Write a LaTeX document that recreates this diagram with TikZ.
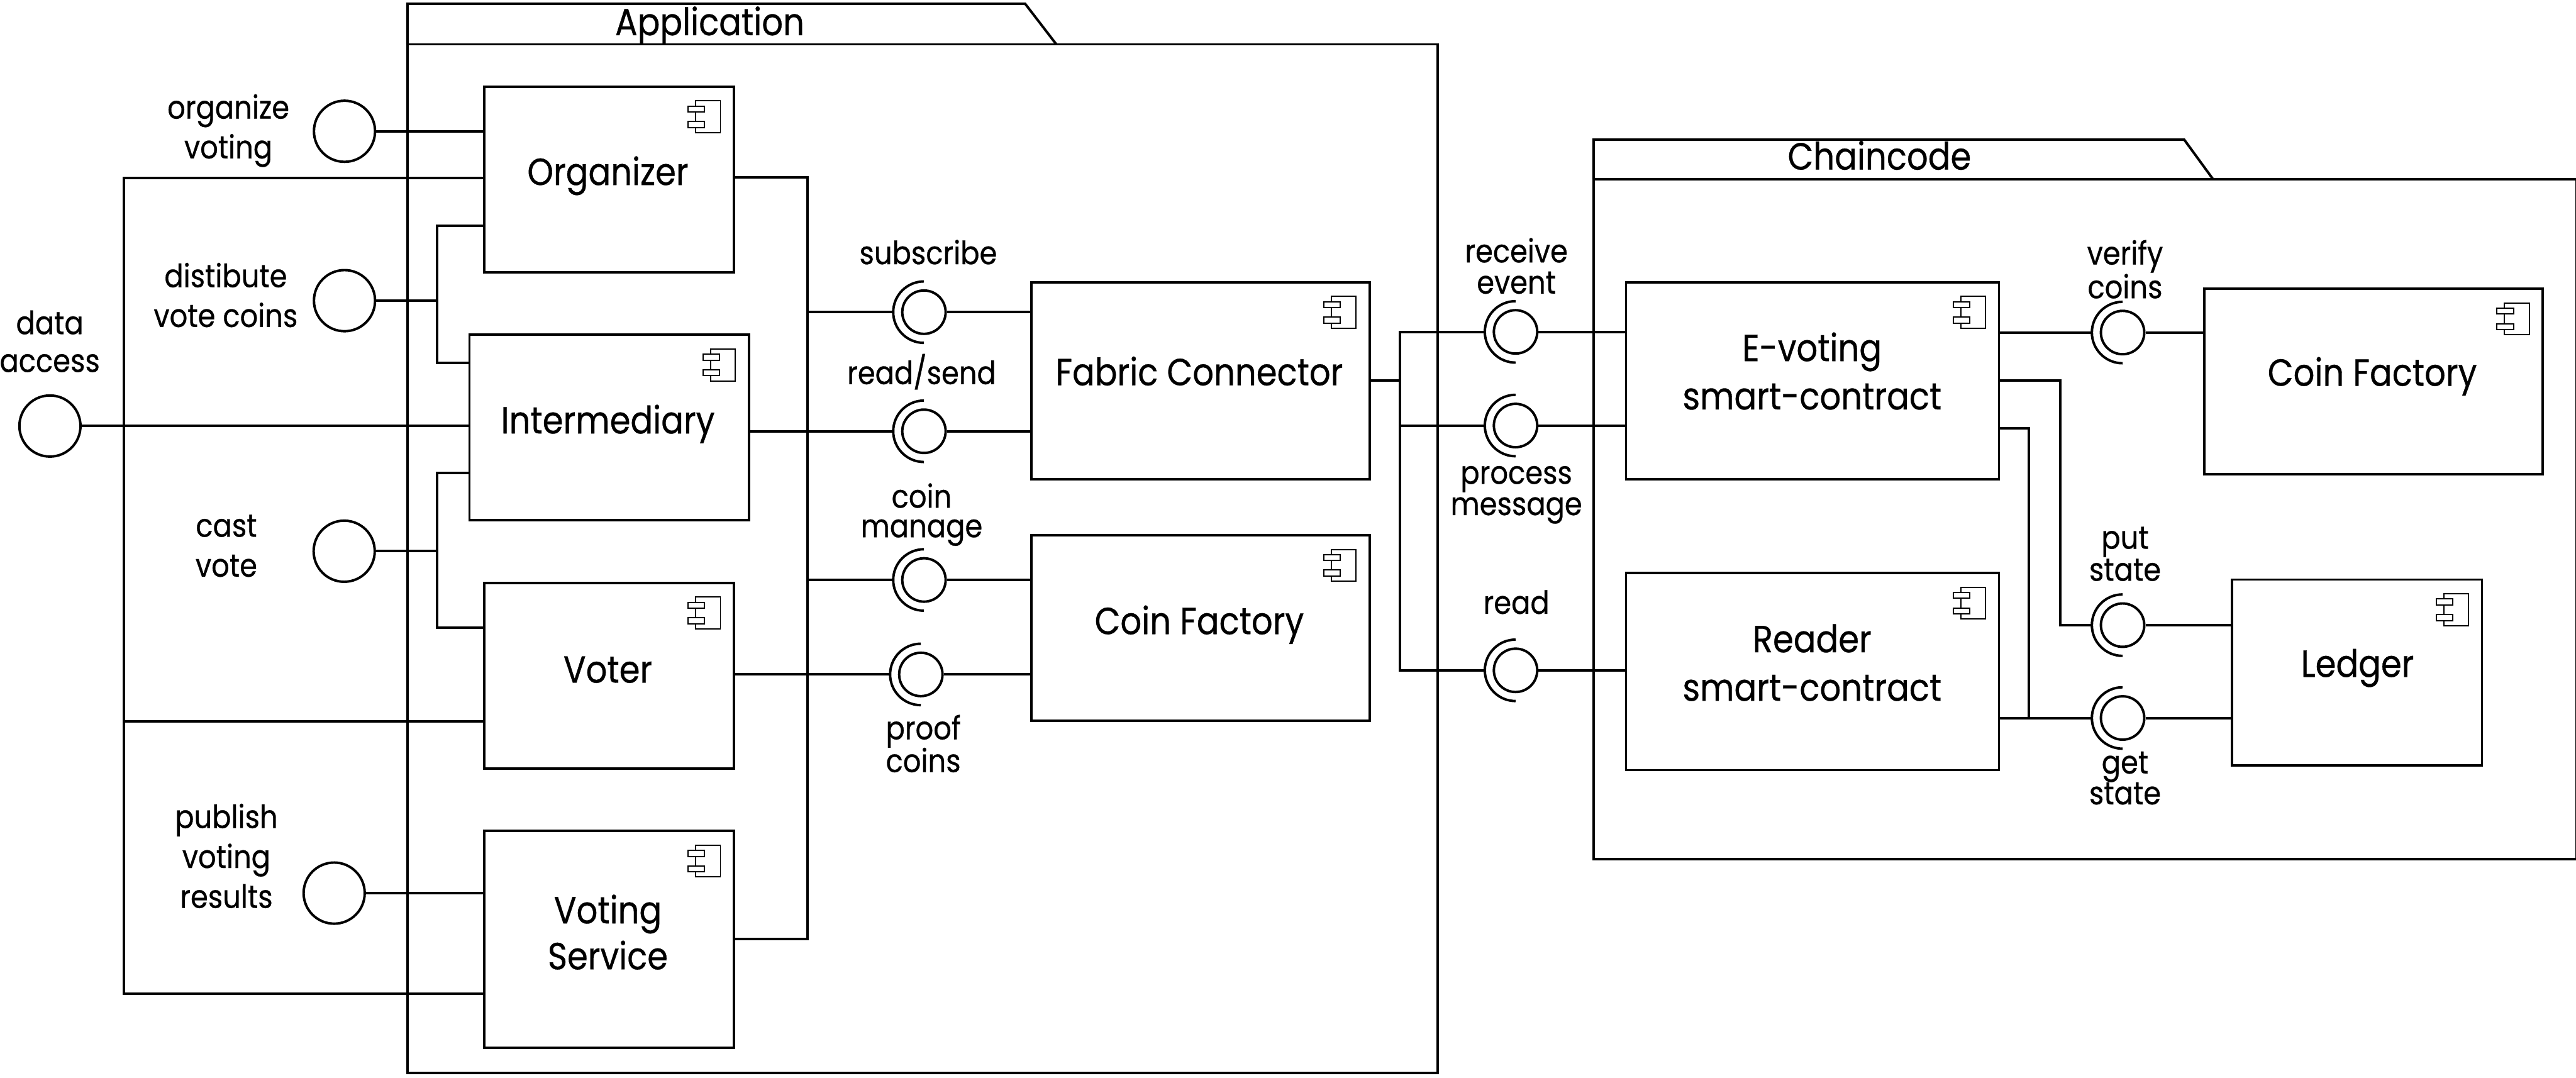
\documentclass[tikz,border=0pt]{standalone}
\usepackage{fontspec}
\setmainfont{Poppins}[FakeStretch=0.88,FakeBold=0.5]
\newcommand\cmpfont{\fontsize{23}{28}\selectfont}
\newcommand\lblfont{\fontsize{19.5}{24}\selectfont}
\newcommand\mylines[3]{{\fontsize{#1}{#2}\selectfont\begin{tabular}[t]{@{}c@{}}#3\end{tabular}}}
\newcommand\compicon[1]{%
  \draw[thin line] ([shift={(-24,9.4)}]#1.north east) rectangle ([shift={(-9,28.8)}]#1.north east);
  \draw[thin line,fill=white] ([shift={(-28.6,12.6)}]#1.north east) rectangle ([shift={(-18.6,16.2)}]#1.north east);
  \draw[thin line,fill=white] ([shift={(-28.6,22)}]#1.north east) rectangle ([shift={(-18.6,25.7)}]#1.north east);}
\newcommand\sock[1]{\draw ([yshift=18.7pt]#1.center) arc[start angle=270,end angle=90,radius=18.7];}
\begin{document}
\begin{tikzpicture}[x=1pt,y=-1pt,line width=1.5pt,
  comp/.style={draw,rectangle,inner sep=0pt,anchor=north west},
  thin line/.style={line width=0.75pt},
  lolli/.style={draw,circle,inner sep=0pt,minimum size=37.2pt},
  ball/.style={draw,circle,inner sep=0pt,minimum size=26.4pt},
  ctext/.style={anchor=base,font=\cmpfont,inner sep=0pt},
  ltext/.style={anchor=base,font=\lblfont,inner sep=0pt}]
\fill[white] (0,0) rectangle (1568,656);
\useasboundingbox (0,0) rectangle (1568,656);

% packages
\draw[line join=miter] (248,27) -- (248,2.3) -- (624,2.3) -- (643,27);
\draw (248,27) rectangle (875,653);
\draw[line join=miter] (970,109) -- (970,85) -- (1329.5,85) -- (1347,109);
\draw (970,109) rectangle (1568.2,522.8);
\node[ctext] (tapp) at (432,21.4) {Application};
\node[ctext] (tch) at (1144,103.2) {Chaincode};

% components
\node[comp,minimum width=152pt,minimum height=113pt] (org) at (294,52) {};
\node[comp,minimum width=170pt,minimum height=113pt] (int) at (285,203) {};
\node[comp,minimum width=152pt,minimum height=113pt] (vot) at (294,354) {};
\node[comp,minimum width=152pt,minimum height=132pt] (vs) at (294,505) {};
\node[comp,minimum width=206pt,minimum height=120pt] (fab) at (627,171) {};
\node[comp,minimum width=206pt,minimum height=113pt] (cf1) at (627,325) {};
\node[comp,minimum width=227pt,minimum height=120pt] (ev) at (989,171) {};
\node[comp,minimum width=227pt,minimum height=120pt] (rd) at (989,348) {};
\node[comp,minimum width=206pt,minimum height=113pt] (cf2) at (1341,175) {};
\node[comp,minimum width=152pt,minimum height=113pt] (led) at (1358,352) {};
\foreach \c in {org,int,vot,vs,fab,cf1,ev,rd,cf2,led}{\compicon{\c}}

\node[ctext] (torg) at (370,112.6) {Organizer};
\node[ctext] (tint) at (370,263.8) {Intermediary};
\node[ctext] (tvot) at (370,415.5) {Voter};
\node[ctext] (tvs) at (370,562) {\mylines{23}{28}{Voting\\Service}};
\node[ctext] (tfab) at (730,234.5) {Fabric Connector};
\node[ctext] (tcf1) at (730,386) {Coin Factory};
\node[ctext] (tev) at (1103,219.8) {\mylines{23}{29.4}{E-voting\hspace{24pt}\\smart-contract}};
\node[ctext] (trd) at (1103,397) {\mylines{23}{29.5}{Reader\hspace{22pt}\\smart-contract}};
\node[ctext] (tcf2) at (1444,234.8) {Coin Factory};
\node[ctext] (tled) at (1435,412) {Ledger};

% provided interfaces (left)
\node[lolli] (ov) at (209.7,79.9) {};
\node[lolli] (dv) at (209.7,183) {};
\node[lolli] (da) at (30.4,259.3) {};
\node[lolli] (cv) at (209.5,335.5) {};
\node[lolli] (pr) at (203.4,543.6) {};
\node[ltext] (lov) at (139,72.2) {\mylines{19.5}{24.2}{organize\\voting}};
\node[ltext] (ldv) at (137.4,174.8) {\mylines{19.5}{24.2}{distibute\\vote coins}};
\node[ltext] (lda) at (30.3,203.4) {\mylines{19.5}{23}{data\\access}};
\node[ltext] (lcv) at (137.8,326.7) {\mylines{19.5}{24.3}{cast\\vote}};
\node[ltext] (lpr) at (137.8,504) {\mylines{19.5}{24.3}{publish\\voting\\results}};

% balls
\node[ball] (bsub) at (562.4,190) {};
\node[ball] (brs) at (562.4,262.5) {};
\node[ball] (bcm) at (562.4,353) {};
\node[ball] (bpc) at (560.5,410.5) {};
\node[ball] (brec) at (922.5,202) {};
\node[ball] (bproc) at (922.5,259) {};
\node[ball] (bread) at (922.5,408) {};
\node[ball] (bver) at (1292,202.4) {};
\node[ball] (bput) at (1292,380.5) {};
\node[ball] (bget) at (1292,437) {};
\foreach \b in {bsub,brs,bcm,bpc,brec,bproc,bread,bver,bput,bget}{\sock{\b}}

\node[ltext] (lsub) at (565,160.8) {subscribe};
\node[ltext] (lrs) at (561,233.8) {read/send};
\node[ltext] (lcm) at (561,309) {\mylines{19.5}{18}{coin\\manage}};
\node[ltext] (lpc) at (562,450) {\mylines{19.5}{17}{proof\\coins}};
\node[ltext] (lrec) at (923,159.7) {\mylines{19.5}{18.7}{receive\\event}};
\node[ltext] (lproc) at (923,294.5) {\mylines{19.5}{19}{process\\message}};
\node[ltext] (lread) at (923,373.6) {read};
\node[ltext] (lver) at (1293.5,161) {\mylines{19.5}{19}{verify\\coins}};
\node[ltext] (lput) at (1293.5,334) {\mylines{19.5}{19.5}{put\\state}};
\node[ltext] (lget) at (1293.5,470.8) {\mylines{19.5}{18}{get\\state}};

% junction coordinates
\coordinate (dA) at (75.5,108.5);
\coordinate (dB) at (75.5,439);
\coordinate (dC) at (75.5,605);
\coordinate (dvJ) at (266,183);
\coordinate (dvT) at (266,137.5);
\coordinate (dvB) at (266,221);
\coordinate (cvJ) at (266,335.5);
\coordinate (cvT) at (266,288);
\coordinate (cvB) at (266,382);
\coordinate (rA) at (491.5,108);
\coordinate (rB) at (491.5,571.6);
\coordinate (cT) at (852,202);
\coordinate (cB) at (852,408);
\coordinate (pJ1) at (1254,231.5);
\coordinate (pJ2) at (1254,380.5);
\coordinate (gJ1) at (1235,260.7);
\coordinate (gJ2) at (1235,437);

% left connectors
\draw (ov) -- (ov -| org.west);
\draw[line join=miter] (org.west |- dA) -- (dA) -- (dC) -- (vs.west |- dC);
\draw (dB) -- (vot.west |- dB);
\draw (da) -- (da -| int.west);
\draw (dv) -- (dvJ);
\draw[line join=miter] (org.west |- dvT) -- (dvT) -- (dvB) -- (int.west |- dvB);
\draw (cv) -- (cvJ);
\draw[line join=miter] (int.west |- cvT) -- (cvT) -- (cvB) -- (vot.west |- cvB);
\draw (pr) -- (pr -| vs.west);

% application right connectors
\draw[line join=miter] (org.east |- rA) -- (rA) -- (rB) -- (vs.east |- rB);
\draw (bsub -| rA) -- ([xshift=-18.7pt]bsub.center);
\draw (bcm -| rA) -- ([xshift=-18.7pt]bcm.center);
\draw (int.east |- brs) -- ([xshift=-18.7pt]brs.center);
\draw (vot.east |- bpc) -- ([xshift=-18.7pt]bpc.center);
\draw (bsub) -- (bsub -| fab.west);
\draw (brs) -- (brs -| fab.west);
\draw (bcm) -- (bcm -| cf1.west);
\draw (bpc) -- (bpc -| cf1.west);

% chaincode connectors
\draw (fab.east) -- (fab.east -| cT);
\draw[line join=miter] ([xshift=-18.7pt]brec.center) -- (cT) -- (cB) -- ([xshift=-18.7pt]bread.center);
\draw (bproc -| cT) -- ([xshift=-18.7pt]bproc.center);
\draw (brec) -- (brec -| ev.west);
\draw (bproc) -- (bproc -| ev.west);
\draw (bread) -- (bread -| rd.west);
\draw (ev.east |- bver) -- ([xshift=-18.7pt]bver.center);
\draw (bver) -- (bver -| cf2.west);
\draw[line join=miter] (ev.east |- pJ1) -- (pJ1) -- (pJ2) -- ([xshift=-18.7pt]bput.center);
\draw (bput) -- (bput -| led.west);
\draw[line join=miter] (ev.east |- gJ1) -- (gJ1) -- (gJ2) -- ([xshift=-18.7pt]bget.center);
\draw (rd.east |- gJ2) -- (gJ2);
\draw (bget) -- (bget -| led.west);
\end{tikzpicture}
\end{document}
